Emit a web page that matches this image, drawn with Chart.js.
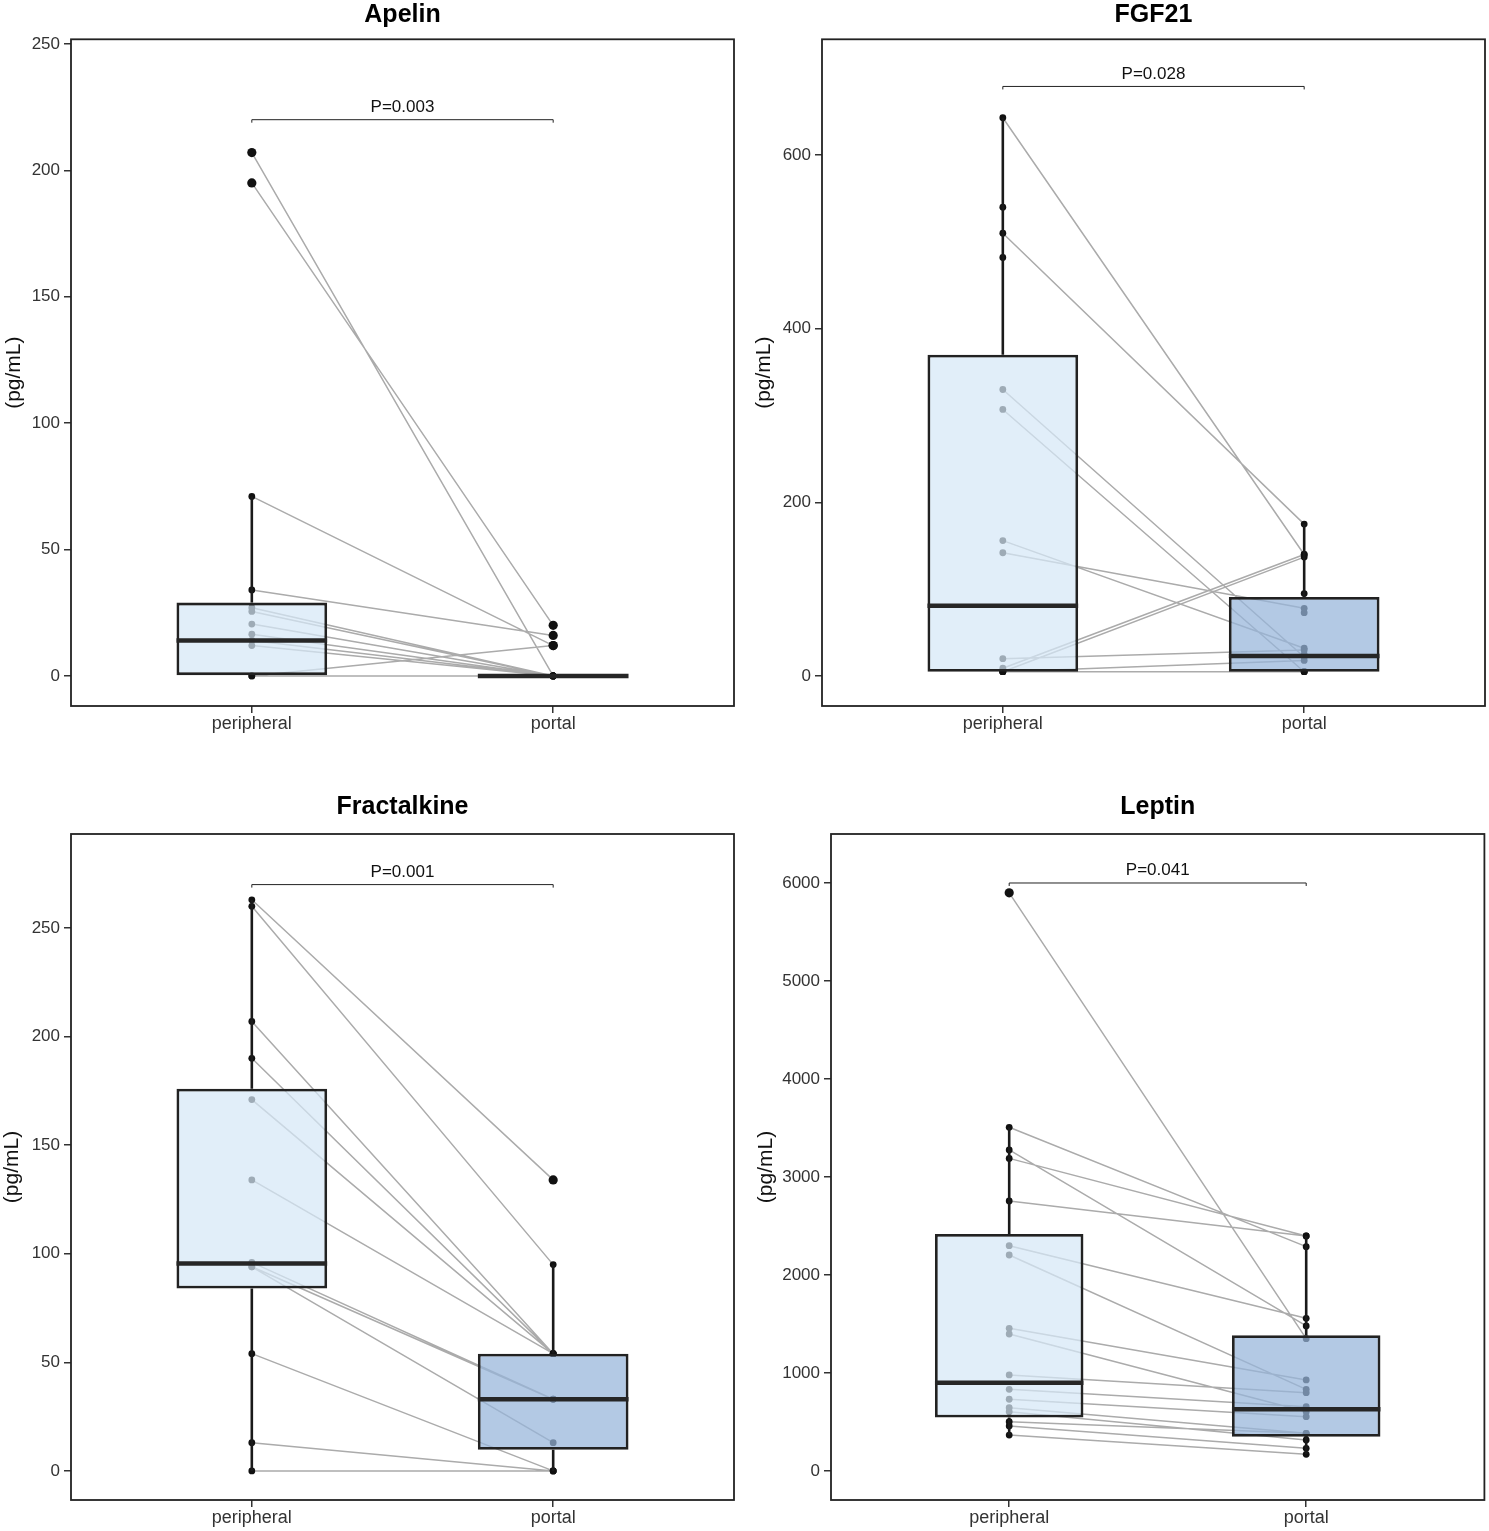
<!DOCTYPE html>
<html>
<head>
<meta charset="utf-8">
<script src="https://cdn.jsdelivr.net/npm/chart.js@4.4.1/dist/chart.umd.min.js"></script>
<style>
  html, body { margin: 0; padding: 0; background: #fff; }
  #wrap { position: relative; width: 1489px; height: 1531px; }
  canvas { position: absolute; }
</style>
</head>
<body>
<div id="wrap">
  <canvas id="apelin" width="745" height="745" style="left:0;top:0"></canvas>
  <canvas id="fgf21" width="744" height="745" style="left:745px;top:0"></canvas>
  <canvas id="fractalkine" width="745" height="751" style="left:0;top:780px"></canvas>
  <canvas id="leptin" width="744" height="751" style="left:745px;top:780px"></canvas>
</div>
<script>
const groups = ['peripheral', 'portal'];

// paired values, one entry per subject (null = no sample)
const apelinPeripheral = [207, 195, 71, 34, 27, 25.5, 20.5, 16.5, 14, 12, 0, 0];
const apelinPortal     = [0, 20, 12, 16, 0, 0, 0, 0, 0, 0, 12, 0];
// box stats: [lower whisker, q1, median, q3, upper whisker]
const apelinBoxPeripheral = [0, 0, 14, 29, 71];
const apelinBoxPortal     = [0, 0, 0, 0, 0];
const apelinTicks = [0, 50, 100, 150, 200, 250];

const fgf21Peripheral = [643, 540, 510, 482, 330, 307, 156, 142, 20, 9, 5, 5, 5, 5, null, null, null];
const fgf21Portal     = [140, null, 175, null, 22, 5, 32, 78, 30, 140, 137, 5, 5, 18, 95, 73, 25];
const fgf21BoxPeripheral = [5, 5, 81, 370, 643];
const fgf21BoxPortal     = [5, 5, 23, 91, 175];
const fgf21Ticks = [0, 200, 400, 600];

const fractalkinePeripheral = [263, 260, 207, 190, 171, 134, 96, 94, 94, 54, 13, 0];
const fractalkinePortal     = [134, 95, 54, 54, 54, 54, 33, 13, 33, 0, 0, 0];
const fractalkineBoxPeripheral = [0, 84, 95.5, 176, 263];
const fractalkineBoxPortal     = [0, 9.7, 33, 54, 95];
const fractalkineTicks = [0, 50, 100, 150, 200, 250];

const leptinPeripheral = [5900, 3507, 3276, 3190, 2755, 2299, 2204, 1456, 1398, 980, 833, 732, 646, 605, 503, 459, 367];
const leptinPortal     = [1350, 2289, 1480, 2398, 2398, 1558, 833, 929, 605, 799, 656, 554, 384, 316, 384, 231, 170];
const leptinBoxPeripheral = [367, 545, 901, 2418, 3507];
const leptinBoxPortal     = [170, 350, 630, 1385, 2398];
const leptinTicks = [0, 1000, 2000, 3000, 4000, 5000, 6000];

Chart.defaults.font.family = '"Liberation Sans", Arial, Helvetica, sans-serif';
Chart.defaults.animation = false;

const FILL = ['rgba(214, 232, 247, 0.72)', 'rgba(151, 181, 218, 0.73)'];

const boxExtras = {
  id: 'boxExtras',
  afterDatasetsDraw(chart, args, opts) {
    const { ctx } = chart;
    const x = chart.scales.x, y = chart.scales.y;
    ctx.save();
    opts.boxes.forEach((b, i) => {
      const cx = x.getPixelForValue(i + 1);
      ctx.strokeStyle = '#1a1a1a';
      ctx.lineWidth = 2.6;
      ctx.beginPath();
      ctx.moveTo(cx, y.getPixelForValue(b[3]));
      ctx.lineTo(cx, y.getPixelForValue(b[4]));
      ctx.moveTo(cx, y.getPixelForValue(b[1]));
      ctx.lineTo(cx, y.getPixelForValue(b[0]));
      ctx.stroke();
      ctx.strokeStyle = '#262626';
      ctx.lineWidth = 4.5;
      ctx.beginPath();
      ctx.moveTo(x.getPixelForValue(i + 0.75), y.getPixelForValue(b[2]));
      ctx.lineTo(x.getPixelForValue(i + 1.25), y.getPixelForValue(b[2]));
      ctx.stroke();
    });
    // significance bracket
    const by = y.getPixelForValue(opts.bracket);
    const x1 = x.getPixelForValue(1), x2 = x.getPixelForValue(2);
    ctx.strokeStyle = '#222';
    ctx.lineWidth = 1;
    ctx.beginPath();
    ctx.moveTo(x1, by + 3); ctx.lineTo(x1, by); ctx.lineTo(x2, by); ctx.lineTo(x2, by + 3);
    ctx.stroke();
    ctx.fillStyle = '#111';
    ctx.font = '17px "Liberation Sans", Arial, sans-serif';
    ctx.textAlign = 'center';
    ctx.textBaseline = 'middle';
    ctx.fillText(opts.pText, (x1 + x2) / 2, by - 12.5);
    ctx.restore();
  },
  afterDraw(chart) {
    const { ctx, chartArea: a } = chart;
    ctx.save();
    ctx.strokeStyle = '#222';
    ctx.lineWidth = 1.8;
    ctx.strokeRect(a.left, a.top, a.right - a.left, a.bottom - a.top);
    ctx.restore();
  }
};

function makePanel(id, title, peripheral, portal, boxP, boxQ, ticks, range, bracket, pText, lay) {
  const boxes = [boxP, boxQ];
  const points = [], outliers = [], segs = [];
  [peripheral, portal].forEach((arr, g) => {
    const b = boxes[g];
    arr.forEach(v => {
      if (v == null) return;
      const pt = { x: g + 1, y: v };
      if (v > b[4] || v < b[0]) outliers.push(pt); else points.push(pt);
    });
  });
  peripheral.forEach((v, i) => {
    const w = portal[i];
    if (v == null || w == null) return;
    segs.push({ x: 1, y: v }, { x: 2, y: w }, { x: 1.5, y: null });
  });

  new Chart(document.getElementById(id), {
    type: 'bar',
    data: {
      datasets: [
        {
          type: 'bar',
          data: boxes.map((b, i) => ({ x: i + 1, y: [b[1], b[3]] })),
          backgroundColor: FILL,
          borderColor: '#222',
          borderWidth: 2.8,
          borderSkipped: false,
          categoryPercentage: 1,
          barPercentage: 0.5,
          grouped: false,
          order: 0
        },
        {
          type: 'scatter',
          data: outliers,
          pointRadius: 4.6,
          pointBackgroundColor: '#111',
          pointBorderWidth: 0,
          order: 1
        },
        {
          type: 'scatter',
          data: points,
          pointRadius: 3.4,
          pointBackgroundColor: '#111',
          pointBorderWidth: 0,
          order: 1
        },
        {
          type: 'line',
          data: segs,
          borderColor: '#ababab',
          borderWidth: 1.5,
          pointRadius: 0,
          spanGaps: false,
          tension: 0,
          order: 2
        }
      ]
    },
    options: {
      responsive: false,
      layout: { padding: { left: 0, right: lay.right, top: 0, bottom: 0 } },
      plugins: {
        legend: { display: false },
        tooltip: { enabled: false },
        title: {
          display: true,
          text: title,
          fullSize: false,
          color: '#000',
          font: { size: 25, weight: 'bold' },
          padding: { top: lay.titleTop, bottom: lay.titleBottom }
        },
        boxExtras: { boxes: boxes, bracket: bracket, pText: pText }
      },
      scales: {
        x: {
          type: 'linear',
          offset: false,
          min: 0.4,
          max: 2.6,
          afterBuildTicks: s => { s.ticks = groups.map((g, i) => ({ value: i + 1 })); },
          afterFit: s => { s.height = lay.bottom; },
          ticks: {
            callback: v => groups[Math.round(v) - 1],
            color: '#333',
            font: { size: 18 },
            padding: 0,
            maxRotation: 0
          },
          grid: { offset: false, drawOnChartArea: false, drawTicks: true, tickLength: 7, color: '#333', lineWidth: 1.5 },
          border: { display: false }
        },
        y: {
          type: 'linear',
          min: range[0],
          max: range[1],
          afterBuildTicks: s => { s.ticks = ticks.map(v => ({ value: v })); },
          afterFit: s => { s.width = lay.left; },
          ticks: { color: '#333', font: { size: 17 }, padding: 4, callback: v => String(v) },
          grid: { drawOnChartArea: false, drawTicks: true, tickLength: 7, color: '#333', lineWidth: 1.5 },
          border: { display: false },
          title: {
            display: true,
            text: '(pg/mL)',
            color: '#111',
            font: { size: 21 },
            padding: { top: lay.yTitle, bottom: 0 }
          }
        }
      }
    },
    plugins: [boxExtras]
  });
}

makePanel('apelin', 'Apelin', apelinPeripheral, apelinPortal, apelinBoxPeripheral, apelinBoxPortal,
  apelinTicks, [-11.9, 251.8], 220, 'P=0.003',
  { left: 71, right: 11, bottom: 39, titleTop: 0, titleBottom: 9.3, yTitle: 2 });
makePanel('fgf21', 'FGF21', fgf21Peripheral, fgf21Portal, fgf21BoxPeripheral, fgf21BoxPortal,
  fgf21Ticks, [-34.5, 733.3], 679, 'P=0.028',
  { left: 77, right: 3, bottom: 39, titleTop: 0, titleBottom: 9.3, yTitle: 7 });
makePanel('fractalkine', 'Fractalkine', fractalkinePeripheral, fractalkinePortal, fractalkineBoxPeripheral, fractalkineBoxPortal,
  fractalkineTicks, [-13.4, 293.3], 270, 'P=0.001',
  { left: 71, right: 11, bottom: 31, titleTop: 12.5, titleBottom: 11.5, yTitle: 0 });
makePanel('leptin', 'Leptin', leptinPeripheral, leptinPortal, leptinBoxPeripheral, leptinBoxPortal,
  leptinTicks, [-296, 6500], 6000, 'P=0.041',
  { left: 86, right: 3, bottom: 31, titleTop: 12.5, titleBottom: 11.5, yTitle: 9 });
</script>
</body>
</html>
